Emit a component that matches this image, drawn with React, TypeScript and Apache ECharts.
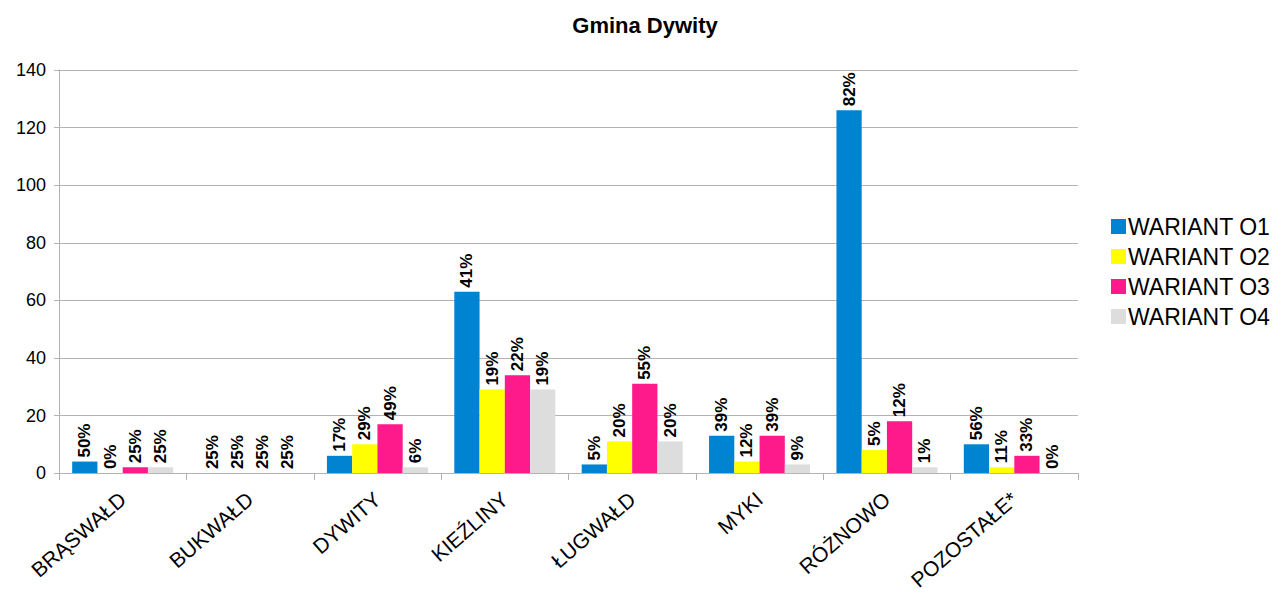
import React, { useEffect, useRef } from "react";
import * as echarts from "echarts";

const categories = ["BRĄSWAŁD", "BUKWAŁD", "DYWITY", "KIEŹLINY", "ŁUGWAŁD", "MYKI", "RÓŻNOWO", "POZOSTAŁE*"];
const seriesNames = ["WARIANT O1", "WARIANT O2", "WARIANT O3", "WARIANT O4"];
const o1 = [4, 0, 6, 63, 3, 13, 126, 10];
const o2 = [0, 0, 10, 29, 11, 4, 8, 2];
const o3 = [2, 0, 17, 34, 31, 13, 18, 6];
const o4 = [2, 0, 2, 29, 11, 3, 2, 0];
const o1Labels = ["50%", "25%", "17%", "41%", "5%", "39%", "82%", "56%"];
const o2Labels = ["0%", "25%", "29%", "19%", "20%", "12%", "5%", "11%"];
const o3Labels = ["25%", "25%", "49%", "22%", "55%", "39%", "12%", "33%"];
const o4Labels = ["25%", "25%", "6%", "19%", "20%", "9%", "1%", "0%"];
const colors = ["#0084d1", "#ffff00", "#ff1a8c", "#dddddd"];
const yTicks = [0, 20, 40, 60, 80, 100, 120, 140];

export default function App() {
  const ref = useRef<HTMLDivElement>(null);
  useEffect(() => {
    if (!ref.current) return;
    const chart = echarts.init(ref.current, null, { renderer: "svg" });
    const data = [o1, o2, o3, o4];
    const labels = [o1Labels, o2Labels, o3Labels, o4Labels];
    chart.setOption({
      animation: false,
      backgroundColor: "#ffffff",
      title: {
        text: "Gmina Dywity",
        left: 640,
        top: 9,
        textAlign: "center",
        textStyle: { fontFamily: "Liberation Sans", fontSize: 22, fontWeight: "bold", color: "#000" },
      },
      legend: {
        orient: "vertical",
        left: 1106,
        top: 210,
        itemWidth: 15,
        itemHeight: 15,
        itemGap: 7,
        icon: "rect",
        textStyle: { fontFamily: "Liberation Sans", fontSize: 23, color: "#000", padding: [0, 0, 0, -3] },
        data: seriesNames,
      },
      grid: { left: 59, right: 201, top: 70, bottom: 119, containLabel: false },
      xAxis: {
        type: "category",
        data: categories,
        axisLine: { show: true, lineStyle: { color: "#b3b3b3" } },
        axisTick: { show: true, length: 7, lineStyle: { color: "#b3b3b3" } },
        axisLabel: {
          rotate: 41,
          fontFamily: "Liberation Sans",
          fontSize: 21,
          color: "#000",
          margin: 23,
        },
      },
      yAxis: {
        type: "value",
        min: yTicks[0],
        max: yTicks[yTicks.length - 1],
        interval: 20,
        axisLine: { show: true, lineStyle: { color: "#b3b3b3" } },
        axisTick: { show: true, length: 5, lineStyle: { color: "#b3b3b3" } },
        splitLine: { show: true, lineStyle: { color: "#b3b3b3" } },
        axisLabel: { fontFamily: "Liberation Sans", fontSize: 18, color: "#000", margin: 13 },
      },
      series: seriesNames.map((name, i) => ({
        name,
        type: "bar",
        data: data[i],
        barGap: "0%",
        barCategoryGap: "20.7%",
        itemStyle: { color: colors[i] },
        label: {
          show: true,
          position: "top",
          rotate: 90,
          align: "left",
          verticalAlign: "middle",
          distance: 4,
          fontFamily: "Liberation Sans",
          fontSize: 17,
          fontWeight: "bold",
          color: "#000",
          formatter: (p: any) => labels[i][p.dataIndex],
        },
      })),
    });
    return () => chart.dispose();
  }, []);
  return <div ref={ref} style={{ position: "fixed", left: 0, top: 0, width: 1279, height: 593 }} />;
}
